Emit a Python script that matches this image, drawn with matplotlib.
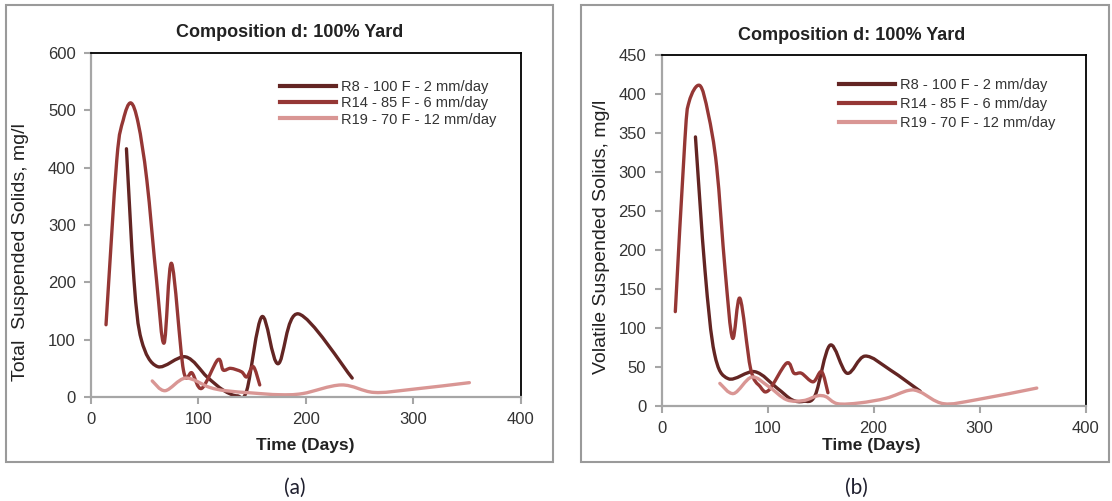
import numpy as np
import matplotlib
matplotlib.use('Agg')
import matplotlib.pyplot as plt
from matplotlib.path import Path
from matplotlib.patches import PathPatch, Rectangle
from matplotlib.lines import Line2D

plt.rcParams['font.family'] = ['Liberation Sans', 'DejaVu Sans']

# series labels and colours
labels = ['R8 - 100 F - 2 mm/day', 'R14 - 85 F - 6 mm/day', 'R19 - 70 F - 12 mm/day']
colors = ['#632523', '#953735', '#D99694']

# (a) Total suspended solids, mg/l
r8_tss_days = [33, 40, 47, 62, 88, 108, 123, 136, 145, 159, 174, 193, 243]
r8_tss = [433, 204, 99, 53, 70, 35, 12, 2, 12, 140, 58, 145, 33]
r14_tss_days = [14, 24, 30, 37, 44, 52, 61, 68, 75, 86, 94, 103, 118, 123, 130, 140, 145, 151, 157]
r14_tss = [126, 413, 483, 513, 477, 378, 204, 94, 233, 47, 42, 15, 65, 47, 50, 44, 35, 53, 21]
r19_tss_days = [57, 69, 88, 110, 125, 150, 175, 197, 233, 263, 297, 352]
r19_tss = [28, 11, 33, 17, 11, 7, 4, 6, 21, 8, 13, 25]

# (b) Volatile suspended solids, mg/l
r8_vss_days = [32, 41, 50, 63, 88, 109, 123, 134, 145, 159, 175, 192, 216, 244]
r8_vss = [345, 174, 67, 35, 44, 23, 8, 6, 14, 78, 42, 64, 46, 19]
r14_vss_days = [13, 22, 26, 36, 44, 52, 60, 67, 74, 84, 93, 101, 118, 125, 132, 143, 151, 157]
r14_vss = [121, 340, 390, 411, 375, 307, 174, 87, 138, 48, 25, 20, 55, 42, 42, 31, 44, 17]
r19_vss_days = [55, 68, 85, 101, 118, 134, 147, 155, 166, 187, 212, 233, 244, 266, 297, 354]
r19_vss = [29, 16, 37, 25, 8, 7, 13, 12, 3, 4, 10, 20, 18, 3, 8, 23]


def smooth_path(xs, ys, t=1/6):
    # Excel style smoothed line: cubic bezier through the data points
    pts = np.column_stack([xs, ys]).astype(float)
    n = len(pts)
    verts = [pts[0]]
    codes = [Path.MOVETO]
    for i in range(n - 1):
        p0 = pts[max(i - 1, 0)]
        p1 = pts[i]
        p2 = pts[i + 1]
        p3 = pts[min(i + 2, n - 1)]
        verts += [p1 + (p2 - p0) * t, p2 - (p3 - p1) * t, p2]
        codes += [Path.CURVE4] * 3
    return Path(verts, codes)


def draw_panel(ax, series, ymax, ystep, ylabel, ylab_xy, xlab_xy, leg_xy, leg_space):
    for (d, v), c in zip(series, colors):
        ax.add_patch(PathPatch(smooth_path(d, v), facecolor='none', edgecolor=c,
                               lw=2.4, capstyle='round', joinstyle='round',
                               transform=ax.transData))
    ax.set_xlim(0, 400)
    ax.set_ylim(0, ymax)
    ax.set_xticks(range(0, 401, 100))
    ax.set_yticks(range(0, ymax + 1, ystep))
    for s in ['left', 'bottom']:
        ax.spines[s].set_color('#a6a6a6')
        ax.spines[s].set_linewidth(1.6)
    for s in ['top', 'right']:
        ax.spines[s].set_color('black')
        ax.spines[s].set_linewidth(1.3)
    ax.tick_params(axis='both', direction='out', length=5, width=1.5,
                   color='#a6a6a6', labelsize=12, labelcolor='#333333')
    ax.tick_params(axis='y', pad=6)
    ax.tick_params(axis='x', pad=6)
    ax.set_ylabel(ylabel, fontsize=14, color='#222222')
    ax.yaxis.set_label_coords(*ylab_xy)
    ax.set_xlabel('Time (Days)', fontsize=12.5, fontweight='bold', color='#222222')
    ax.xaxis.set_label_coords(*xlab_xy)
    handles = [Line2D([], [], color=c, lw=3) for c in colors]
    ax.legend(handles, labels, loc='upper left', bbox_to_anchor=leg_xy,
              frameon=False, fontsize=10.5, handlelength=3.8, handletextpad=0.35,
              labelspacing=leg_space, borderpad=0, borderaxespad=0,
              labelcolor='#333333')


fig = plt.figure(figsize=(11.12, 5.01), dpi=100)

# panel frames
fig.patches.append(Rectangle((0.0058, 0.078), 0.4915, 0.912, transform=fig.transFigure,
                             fill=False, edgecolor='#9a9a9a', lw=1.5))
fig.patches.append(Rectangle((0.5225, 0.078), 0.4745, 0.912, transform=fig.transFigure,
                             fill=False, edgecolor='#9a9a9a', lw=1.5))

ax1 = fig.add_axes([0.0818, 0.2076, 0.3867, 0.6866])
draw_panel(ax1, [(r8_tss_days, r8_tss), (r14_tss_days, r14_tss), (r19_tss_days, r19_tss)],
           600, 100, 'Total  Suspended Solids, mg/l', (-0.144, 0.42), (0.498, -0.119),
           (0.44, 0.921), 0.15)

ax2 = fig.add_axes([0.5949, 0.1896, 0.3813, 0.7006])
draw_panel(ax2, [(r8_vss_days, r8_vss), (r14_vss_days, r14_vss), (r19_vss_days, r19_vss)],
           450, 50, 'Volatile Suspended Solids, mg/l', (-0.121, 0.482), (0.494, -0.091),
           (0.419, 0.934), 0.33)

fig.text(0.2608, 0.936, 'Composition d: 100% Yard', ha='center', va='center',
         fontsize=13, fontweight='bold', color='#222222')
fig.text(0.766, 0.930, 'Composition d: 100% Yard', ha='center', va='center',
         fontsize=13, fontweight='bold', color='#222222')

fig.text(0.2653, 0.027, '(a)', ha='center', va='center', fontsize=15,
         family=['Lato', 'DejaVu Sans'], color='#1f1f2e')
fig.text(0.770, 0.027, '(b)', ha='center', va='center', fontsize=15,
         family=['Lato', 'DejaVu Sans'], color='#1f1f2e')

fig.savefig('out.png', dpi=100)
